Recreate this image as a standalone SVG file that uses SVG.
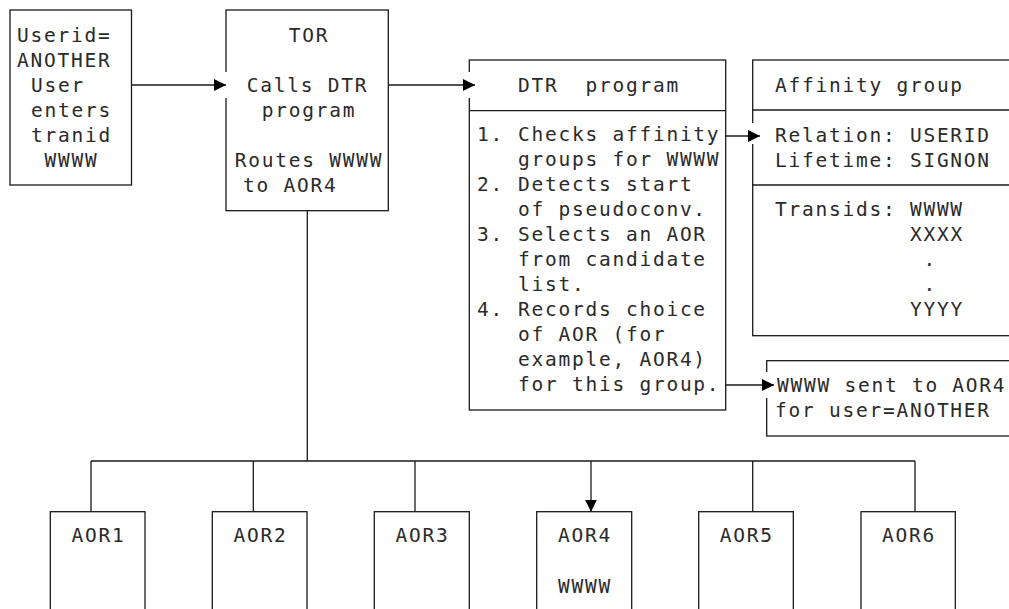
<svg xmlns="http://www.w3.org/2000/svg" width="1009" height="609" viewBox="0 0 1009 609">
<style>
.box{fill:#fff;stroke:#1a1a1a;stroke-width:1.3}
.ln{fill:none;stroke:#1a1a1a;stroke-width:1.3}
.gap{fill:#fff;stroke:none}
text{font-family:"DejaVu Sans Mono","Liberation Mono",monospace;font-size:19.5px;letter-spacing:1.75px;fill:#2a2a2a}
.c{text-anchor:middle}
</style>
<defs>
<marker id="ah" markerUnits="userSpaceOnUse" markerWidth="13" markerHeight="13" refX="12" refY="6" orient="auto">
<path d="M0,0 L12,6 L0,12 z" fill="#000"/>
</marker>
</defs>
<rect width="1009" height="609" fill="#fff"/>

<g id="user">
<rect class="box" x="10" y="10" width="121.5" height="175"/>
<text x="17" y="42">Userid=</text>
<text x="17" y="67">ANOTHER</text>
<text x="31" y="92">User</text>
<text x="31" y="117">enters</text>
<text x="31" y="142">tranid</text>
<text x="44.5" y="167">WWWW</text>
</g>

<g id="tor">
<rect class="box" x="226" y="10" width="162.3" height="200.7"/>
<text class="c" x="309" y="42">TOR</text>
<text class="c" x="307.5" y="92">Calls DTR</text>
<text class="c" x="309" y="117">program</text>
<text class="c" x="309" y="167">Routes WWWW</text>
<text x="243" y="192">to AOR4</text>
</g>

<g id="dtr">
<rect class="box" x="469.3" y="60" width="256.4" height="350"/>
<line class="ln" x1="469.3" y1="110.7" x2="725.7" y2="110.7"/>
<text x="518" y="92" xml:space="preserve">DTR  program</text>
<text x="477" y="141">1.</text><text x="518" y="141">Checks affinity</text>
<text x="518" y="166">groups for WWWW</text>
<text x="477" y="191">2.</text><text x="518" y="191">Detects start</text>
<text x="518" y="216">of pseudoconv.</text>
<text x="477" y="241">3.</text><text x="518" y="241">Selects an AOR</text>
<text x="518" y="266">from candidate</text>
<text x="518" y="291">list.</text>
<text x="477" y="316">4.</text><text x="518" y="316">Records choice</text>
<text x="518" y="341">of AOR (for</text>
<text x="518" y="366">example, AOR4)</text>
<text x="518" y="391">for this group.</text>
</g>

<g id="affinity">
<rect class="box" x="752.7" y="60" width="270" height="275.7"/>
<line class="ln" x1="752.7" y1="110" x2="1009" y2="110"/>
<line class="ln" x1="752.7" y1="185" x2="1009" y2="185"/>
<text x="775" y="92">Affinity group</text>
<text x="775" y="142">Relation: USERID</text>
<text x="775" y="167">Lifetime: SIGNON</text>
<text x="775" y="216">Transids: WWWW</text>
<text x="910" y="241">XXXX</text>
<text x="923.5" y="266">.</text>
<text x="923.5" y="291">.</text>
<text x="910" y="316">YYYY</text>
</g>

<g id="sent">
<rect class="box" x="766.7" y="360.7" width="260" height="75.3"/>
<text x="777" y="392">WWWW sent to AOR4</text>
<text x="775" y="417">for user=ANOTHER</text>
</g>

<g id="aor1"><rect class="box" x="50.3" y="511.7" width="94.7" height="110"/><text class="c" x="98.5" y="542">AOR1</text></g>
<g id="aor2"><rect class="box" x="212.3" y="511.7" width="94.7" height="110"/><text class="c" x="260.5" y="542">AOR2</text></g>
<g id="aor3"><rect class="box" x="374.3" y="511.7" width="95" height="110"/><text class="c" x="422.6" y="542">AOR3</text></g>
<g id="aor4"><rect class="box" x="536.7" y="511.7" width="95" height="110"/><text class="c" x="585" y="542">AOR4</text><text class="c" x="585" y="593">WWWW</text></g>
<g id="aor5"><rect class="box" x="698.7" y="511.7" width="94.6" height="110"/><text class="c" x="746.8" y="542">AOR5</text></g>
<g id="aor6"><rect class="box" x="861" y="511.7" width="94.3" height="110"/><text class="c" x="909" y="542">AOR6</text></g>

<g id="connectors">
<rect class="gap" x="224" y="72" width="4" height="26"/>
<rect class="gap" x="467.3" y="72" width="4" height="26"/>
<rect class="gap" x="750.7" y="123" width="4" height="21"/>
<rect class="gap" x="764.7" y="372" width="4" height="26"/>
<line class="ln" x1="131.5" y1="85" x2="226" y2="85" marker-end="url(#ah)"/>
<line class="ln" x1="388.3" y1="85" x2="475" y2="85" marker-end="url(#ah)"/>
<line class="ln" x1="725.7" y1="136" x2="760" y2="136" marker-end="url(#ah)"/>
<line class="ln" x1="725.7" y1="385" x2="774" y2="385" marker-end="url(#ah)"/>
<line class="ln" x1="307.3" y1="210.7" x2="307.3" y2="461"/>
<line class="ln" x1="91" y1="461" x2="915" y2="461"/>
<line class="ln" x1="91" y1="461" x2="91" y2="511.7"/>
<line class="ln" x1="253.3" y1="461" x2="253.3" y2="511.7"/>
<line class="ln" x1="415" y1="461" x2="415" y2="511.7"/>
<line class="ln" x1="591" y1="461" x2="591" y2="511.7" marker-end="url(#ah)"/>
<line class="ln" x1="752.7" y1="461" x2="752.7" y2="511.7"/>
<line class="ln" x1="915" y1="461" x2="915" y2="511.7"/>
</g>
</svg>
